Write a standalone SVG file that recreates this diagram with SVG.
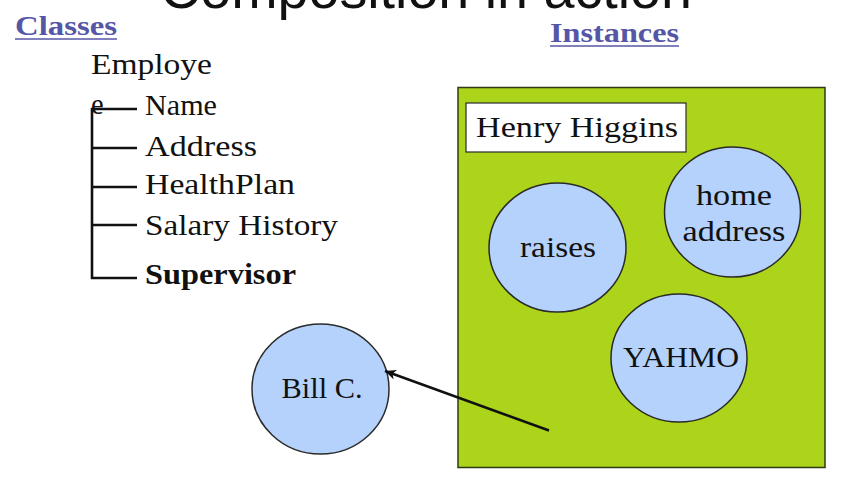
<svg xmlns="http://www.w3.org/2000/svg" width="856" height="486" viewBox="0 0 856 486">
  <style>
    .serif { font-family: "Liberation Serif", "DejaVu Serif", serif; fill: #111; }
    .head { font-family: "Liberation Serif", "DejaVu Serif", serif; font-weight: bold; font-size: 28px; fill: #5656a6; }
    .uline { stroke: #5656a6; stroke-width: 1.6; }
    .tree { stroke: #111; stroke-width: 2.6; fill: none; }
    .obj { fill: #b4d2fc; stroke: #2a2a2a; stroke-width: 1.5; }
    .lbl { font-size: 29px; text-anchor: middle; }
    .attr { font-size: 28.5px; }
  </style>
  <defs>
    <marker id="arrowhead" markerWidth="12" markerHeight="10" refX="11" refY="5" orient="auto" markerUnits="userSpaceOnUse">
      <path d="M0,0 L11,5 L0,10 L3,5 Z" fill="#111"/>
    </marker>
  </defs>

  <rect width="856" height="486" fill="#ffffff"/>

  <!-- slide title, running off the top edge -->
  <text x="160" y="8" font-family="'Liberation Sans', Arial, sans-serif" font-size="56" fill="#111" textLength="532" lengthAdjust="spacingAndGlyphs">Composition in action</text>

  <!-- section headings -->
  <g id="classes-heading">
    <text class="head" x="15" y="35" textLength="102" lengthAdjust="spacingAndGlyphs">Classes</text>
    <line class="uline" x1="15" y1="39" x2="117" y2="39"/>
  </g>
  <g id="instances-heading">
    <text class="head" x="550" y="42" textLength="129" lengthAdjust="spacingAndGlyphs">Instances</text>
    <line class="uline" x1="550" y1="46" x2="679" y2="46"/>
  </g>

  <!-- class tree -->
  <g id="employee-class">
    <text class="serif attr" x="91" y="74" textLength="121" lengthAdjust="spacingAndGlyphs">Employe</text>
    <text class="serif attr" x="91" y="114">e</text>
    <path class="tree" d="M137,109 H92 V278 H137 M92,148 H137 M92,187 H137 M92,225 H137"/>
  </g>
  <g id="attr-name"><text class="serif attr" x="145" y="115" textLength="72" lengthAdjust="spacingAndGlyphs">Name</text></g>
  <g id="attr-address"><text class="serif attr" x="145" y="156" textLength="112" lengthAdjust="spacingAndGlyphs">Address</text></g>
  <g id="attr-healthplan"><text class="serif attr" x="145" y="194" textLength="150" lengthAdjust="spacingAndGlyphs">HealthPlan</text></g>
  <g id="attr-salary"><text class="serif attr" x="145" y="235" textLength="193" lengthAdjust="spacingAndGlyphs">Salary History</text></g>
  <g id="attr-supervisor"><text class="serif attr" x="145" y="284" font-weight="bold" textLength="151" lengthAdjust="spacingAndGlyphs">Supervisor</text></g>

  <!-- instance container -->
  <g id="henry-higgins">
    <rect x="458" y="87.5" width="367" height="380" fill="#acd41a" stroke="#2f3a10" stroke-width="1.5"/>
    <rect x="466" y="103" width="220" height="49" fill="#ffffff" stroke="#2a2a2a" stroke-width="1.2"/>
    <text class="serif" x="476" y="137" font-size="30" textLength="202" lengthAdjust="spacingAndGlyphs">Henry Higgins</text>
  </g>

  <g id="raises">
    <ellipse class="obj" cx="557.5" cy="247.5" rx="68.5" ry="64.5"/>
    <text class="serif lbl" x="558" y="257" textLength="76" lengthAdjust="spacingAndGlyphs">raises</text>
  </g>
  <g id="home-address">
    <ellipse class="obj" cx="732.5" cy="212" rx="68" ry="65"/>
    <text class="serif lbl" x="734" y="205" textLength="76" lengthAdjust="spacingAndGlyphs">home</text>
    <text class="serif lbl" x="734" y="241" textLength="103" lengthAdjust="spacingAndGlyphs">address</text>
  </g>
  <g id="yahmo">
    <ellipse class="obj" cx="679" cy="358" rx="68" ry="64"/>
    <text class="serif lbl" x="681" y="367" textLength="116" lengthAdjust="spacingAndGlyphs">YAHMO</text>
  </g>
  <g id="bill-c">
    <ellipse class="obj" cx="320.5" cy="389" rx="68.5" ry="65"/>
    <text class="serif lbl" x="322" y="398" font-size="31" textLength="81" lengthAdjust="spacingAndGlyphs">Bill C.</text>
  </g>

  <!-- supervisor reference -->
  <g id="connectors">
    <line x1="549" y1="430.5" x2="385" y2="371" stroke="#111" stroke-width="2.6" marker-end="url(#arrowhead)"/>
  </g>
</svg>
